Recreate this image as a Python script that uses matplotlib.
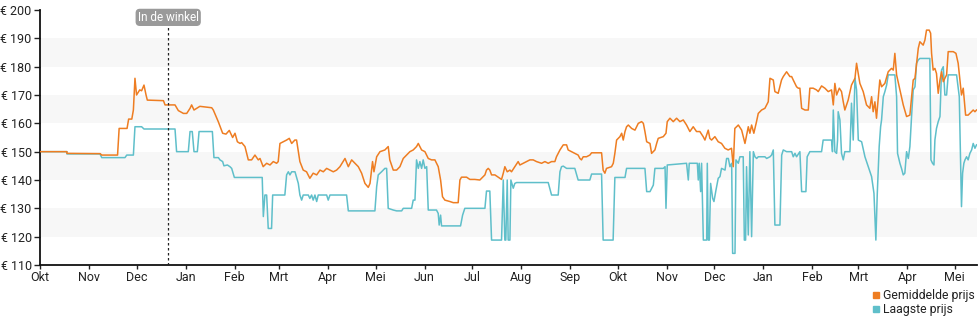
import numpy as np
import pandas as pd
import matplotlib
matplotlib.use("Agg")
import matplotlib.pyplot as plt
from matplotlib.lines import Line2D

plt.rcParams['font.family'] = ['Roboto', 'DejaVu Sans']

start = np.datetime64('2022-10-01')

# gemiddelde prijs: dagen vanaf 1 okt, prijs in euro
avg_days = [0, 17, 17, 38, 39, 49, 50, 55, 56, 58, 59, 60, 61, 63, 64.2, 65.7, 67, 67.8,
            78, 79, 85.3, 87.4, 90.6, 92.7, 94.8, 95.8, 97.3, 99, 101, 108.5, 109.5, 112.7,
            115.4, 117.5, 119.6, 121.7, 123.2, 124.7, 126.4, 127.4, 129.5, 131.6, 133.7,
            135.8, 137.9, 139, 141, 143.2, 145.3, 147.4, 149.5, 150.5, 151.6, 153.7, 155.8,
            157.5, 159, 161, 162.1, 164.2, 166.3, 168.4, 170.5, 172.6, 174.8, 176.9, 179,
            181.1, 183.2, 185.3, 187.4, 189.5, 192.7, 194.8, 196.9, 199, 201.1, 203.2, 205.3,
            207.4, 208.5, 210.1, 211, 212.7, 214.8, 217.9, 220, 221, 223.2, 225.3, 227.4,
            229.5, 231.6, 233.7, 235.8, 237.9, 239, 241.1, 243.2, 245.3, 247.4, 249.5, 251.6,
            253.1, 254.3, 255.8, 259, 261.1, 264.2, 265.3, 266.3, 269.5, 271.6, 274.7, 277.9,
            279, 281.1, 282.1, 283.2, 284.2, 285.3, 287.4, 289.5, 291.6, 292.7, 293.7, 295.2,
            296.9, 297.9, 300, 302.1, 303.2, 305.3, 307.4, 309.5, 311.6, 313.7, 316.9, 319,
            321.1, 323.2, 325.3, 326.3, 328.5, 330.6, 332.7, 333.7, 335.8, 337.9, 340, 341.1,
            342.1, 343.2, 345.3, 347.4, 348.5, 354.8, 355.8, 356.9, 357.9, 361.1, 362.2,
            363.2, 364.3, 366.4, 367.5, 368.5, 369.6, 370.6, 371.7, 373.8, 375.9, 378, 380.1,
            381.2, 382.2, 383.3, 385.4, 386.4, 388.5, 389.6, 390.6, 393.8, 395.5, 396.3, 398,
            400.1, 402.2, 404.3, 406.4, 408.5, 410.6, 412.7, 414.8, 416.9, 419, 420.1, 422.2,
            423.2, 424.3, 426.4, 428.5, 430.6, 432.7, 434.8, 436.9, 438, 439, 441.2, 443.3,
            445.4, 447.5, 448.5, 449.6, 451, 452.7, 453.8, 455.9, 458, 460.1, 461.2, 463.3,
            464.3, 466.4, 468.5, 469.6, 471.7, 473.8, 474.9, 475.9, 478, 479.1, 480.1, 481.2,
            483.3, 485.4, 486.4, 488.5, 490.6, 491.7, 493.8, 495.9, 498, 500.1, 501.2, 502.2,
            503.3, 505, 506.4, 507.5, 508.5, 510.6, 512.7, 513.8, 514.9, 515.9, 517, 518,
            520.1, 522.2, 524.3, 525.4, 526.4, 527.5, 528.5, 530.6, 531.7, 533.8, 535.9, 538,
            539.1, 540.1, 541.2, 543.3, 545.4, 547.5, 549.6, 551.7, 552.8, 554.9, 555.9, 558,
            559.1, 560.1, 561.8, 562.7, 563.3, 564.3, 565.4, 566.4, 567.5, 568.6, 569.6,
            570.7, 571.7, 572.8, 573.8, 577, 578.7, 580.1, 582.2, 583.3, 584.8, 586.4, 587.5,
            589.6, 590.7, 591.7]
avg_prices = [150, 150, 149.4, 149.3, 148.8, 148.8, 158.2, 158.2, 161.5, 161.5, 164.7, 175.9,
              170, 171.8, 171.5, 173.5, 170, 168.2, 168.0, 166.5, 166.5, 164.5, 163.5, 163.5,
              165.3, 166.5, 164.7, 165.3, 166, 165.5, 164.7, 160.5, 156.5, 156.2, 157.5, 155,
              156.5, 153.5, 152.9, 153.2, 151.8, 147.1, 147.1, 148.8, 147.1, 147.6, 144.7,
              145.9, 145.3, 146.5, 145.9, 146.5, 152.9, 153.5, 154.1, 154.7, 152.9, 154.1,
              154.1, 146.5, 143.5, 142.9, 140.6, 142.4, 141.8, 143.5, 142.9, 144.1, 143.5,
              142.9, 143.5, 144.7, 147.6, 144.7, 147.1, 145.9, 144.7, 142.4, 138.8, 137.4,
              138.8, 146.5, 142.9, 148.2, 150, 150.6, 151.8, 147.1, 143.5, 143.5, 144.7, 147.6,
              148.8, 150, 150.6, 151.8, 152.9, 150.6, 150, 147.6, 147.1, 147.1, 144.7, 140,
              134.1, 132.9, 132.4, 132, 132, 140, 141, 141, 140.2, 140.2, 140, 140.6, 141.8,
              143.5, 144.1, 143.5, 141.8, 141.8, 141, 140.2, 142.4, 144.7, 142.9, 143.5, 142.9,
              144.7, 146.5, 145.3, 145.9, 146.5, 147.1, 147.1, 146.5, 145.9, 146.5, 145.9,
              146.5, 146.5, 148.2, 150.6, 152.4, 152.4, 150.6, 150, 149.4, 148.8, 147.6, 147.1,
              148.2, 148.2, 148.8, 149.6, 149.6, 143.5, 142.4, 144.1, 144.7, 145.9, 149.4,
              154.1, 155.3, 156.5, 154.1, 157.1, 158.8, 159.4, 158.2, 157.6, 160, 160.6, 160,
              157.1, 153.5, 152.9, 149.4, 150.6, 152.9, 154.7, 155.3, 156.5, 160.6, 161.8,
              160.6, 161.8, 160.6, 161.2, 159.4, 157.1, 158.8, 157.1, 157.1, 155.3, 154.1,
              157.6, 154.7, 154.1, 155.3, 153.5, 152.9, 151.2, 150.6, 151.2, 144.7, 158.2,
              159.4, 157.6, 152.9, 158.8, 156.5, 159.4, 156.5, 160.6, 163.5, 164.7, 165.3,
              167.6, 175.9, 175.3, 171.2, 170.6, 175.3, 176.5, 178.2, 176.5, 176.5, 175.3,
              172.9, 172.4, 172.4, 165.3, 164.7, 164.7, 172.4, 172.4, 171.8, 171.2, 173.2,
              172.4, 171.2, 171.8, 166.5, 174.1, 170, 172.4, 171.2, 167.6, 164.7, 168.2, 173.5,
              174.7, 175.9, 181.2, 177.6, 174.1, 171.2, 166.5, 165.3, 169.4, 164.1, 167.6,
              161.8, 175.3, 172.9, 174.1, 178.2, 179.4, 178.8, 184.7, 177.1, 171.8, 166.5,
              162.4, 162.9, 175.3, 175.9, 186.5, 188.8, 187.6, 189.4, 192.9, 192.9, 191.8,
              184.7, 178.8, 179.4, 177.6, 170.6, 175.3, 178.2, 174.7, 175.9, 177.1, 185.3,
              185.3, 184.7, 181.2, 170, 172.4, 162.9, 162.9, 163.5, 164.7, 164.1, 164.7]

# laagste prijs
low_days = [0, 17, 17, 37.9, 39, 53.7, 54.8, 59, 60, 64.2, 65.7, 85.3, 86.3, 93.7, 94.8, 96.2,
            97.3, 99.4, 100.5, 108.9, 109.9, 112.7, 113.7, 115.4, 116.2, 118.4, 120, 121.1,
            122.8, 140.4, 141.1, 142.1, 143.2, 144.2, 146.3, 147, 154.7, 155.8, 156.9, 157.9,
            159, 161.1, 163.2, 164.2, 165.3, 166.3, 169.5, 170.5, 171.6, 172.6, 173.7, 174.8,
            175.8, 181.1, 182.1, 183.2, 193.7, 194.8, 211.6, 212.7, 213.7, 215.8, 217.9, 219,
            220, 223.2, 225.3, 228.5, 229.5, 234.8, 235.8, 236.9, 237.9, 239, 240, 241.1,
            242.1, 243.2, 244.3, 245.3, 250.5, 251.6, 252.2, 253.1, 253.7, 265.7, 267, 268.4,
            281.1, 282.1, 284.2, 285.3, 291.6, 292.7, 293.7, 294.3, 295.2, 295.8, 296.9, 297.5,
            299, 300, 301.1, 321.1, 323.2, 327.4, 328.5, 329.5, 330.6, 332.7, 337.9, 340,
            347.4, 348.5, 354.8, 355.8, 362.1, 363.2, 369.6, 370.6, 382.2, 383.3, 385.4, 387.5,
            388.5, 393.8, 394.9, 395.5, 396.3, 408.5, 409.6, 410.2, 415.3, 415.9, 416.5, 417.4,
            418, 419.1, 421.2, 421.6, 422.2, 422.9, 423.7, 425, 425.8, 427.1, 428.5, 429.6,
            430.6, 432.8, 433.8, 434.9, 435.9, 437, 437.6, 439.1, 439.7, 441.2, 442.2, 444.3,
            445, 445.8, 446.4, 447.5, 448.5, 449.6, 450.7, 451.7, 452.8, 453.8, 458, 459.1,
            461.2, 462.2, 463.3, 464.3, 467.5, 468.6, 469.6, 471.7, 474.9, 475.9, 477, 478,
            480.1, 481.2, 483.9, 484.7, 486.4, 493.8, 494.8, 500.1, 500.7, 501.2, 502.2, 503.3,
            503.9, 504.3, 505.4, 506.4, 507.5, 508.5, 511.7, 512.7, 513.8, 514.9, 515.9, 517,
            519.1, 521.2, 523.3, 525.4, 526.9, 528.1, 529, 530.2, 531.1, 531.7, 532.8, 533.8,
            534.9, 535.9, 540.1, 541.2, 541.8, 543.3, 544.3, 545.4, 546.4, 547.5, 548.6,
            549.6, 550.7, 551.7, 552.8, 553.8, 554.9, 555.9, 562.2, 562.9, 563.9, 564.8,
            565.4, 566.4, 567.5, 568.6, 569.6, 570.7, 571.7, 572.8, 573.8, 579.1, 580.8,
            582.2, 582.9, 583.7, 584.4, 585.4, 586.4, 587.5, 588.6, 589.6, 590.7, 591.7]
low_prices = [150, 150, 149.2, 149.2, 147.9, 147.9, 148.8, 148.8, 158.8, 158.8, 158, 158, 150,
              150, 157.1, 157.1, 150, 150, 157.1, 157.1, 147.9, 147.9, 147.1, 146.5, 145,
              145.3, 144.7, 144.1, 140.9, 140.9, 127.1, 134.7, 134.7, 122.9, 122.9, 134.7,
              134.7, 141.8, 142.9, 141.8, 142.9, 142.9, 138.8, 134.7, 132.9, 134.7, 134.7,
              133.5, 134.7, 132.9, 134.7, 132.4, 134.7, 134.7, 132.9, 134.7, 134.7, 129.1,
              129.1, 137.6, 141.8, 142.9, 144.1, 144.1, 130, 129.4, 129.1, 129.1, 130, 130,
              132.9, 132.9, 147.1, 144.1, 146.5, 144.1, 147.1, 144.1, 144.7, 129.4, 129.4,
              128.2, 124.1, 127.6, 123.8, 123.8, 127.6, 130, 130, 136.1, 136.1, 118.8, 118.8,
              140, 118.8, 118.8, 140, 118.8, 118.8, 140, 137.1, 138.8, 139.1, 139.1, 134.7,
              134.7, 142.9, 144.7, 144.9, 144.1, 144.1, 140, 140, 142.1, 142.1, 118.8, 118.8,
              140.9, 140.9, 144.1, 144.1, 135.9, 135.9, 138.2, 144.1, 144.1, 144.7, 130, 145.3,
              145.9, 140, 145.9, 145.9, 140, 145.9, 135.9, 145.9, 118.8, 118.8, 145.9, 118.8,
              118.8, 138.8, 133.5, 132.4, 136.5, 140.6, 141.2, 144.1, 143.5, 147.6, 147.6,
              144.7, 145.9, 114.1, 114.1, 147.1, 145.9, 148.2, 148.2, 118.8, 118.8, 144.7,
              120.6, 150, 120, 150, 148.2, 147.6, 148.2, 148.2, 147.6, 148.2, 148.8, 150.6,
              124.1, 124.1, 148.8, 150.6, 150, 150, 148.2, 149.4, 148.2, 150, 135.9, 135.9,
              148.2, 150, 150, 154.1, 154.1, 150, 164.7, 150, 149.4, 154.1, 164.1, 161.2,
              149.4, 147.1, 150, 150, 167.1, 154.1, 175.9, 171.8, 154.1, 153.5, 148.2, 144.7,
              141.2, 135.3, 118.8, 135.3, 151.8, 158.8, 161.2, 169.4, 171.2, 173.5, 177.1,
              177.1, 169.4, 149.4, 145.9, 144.1, 141.8, 142.4, 150, 147.6, 151.8, 162.9, 171.8,
              172.9, 181.2, 182.4, 182.9, 182.9, 147.1, 145.9, 145.3, 154.1, 158.2, 160.6,
              162.4, 178.8, 180, 170, 170, 177.1, 177.1, 169.4, 130.6, 142.4, 145.9, 147.1,
              148.2, 147.1, 149.4, 150.6, 152.9, 151.2, 152.4]

month_names = ['Jan', 'Feb', 'Mrt', 'Apr', 'Mei', 'Jun', 'Jul', 'Aug', 'Sep', 'Okt', 'Nov', 'Dec']
in_store_date = '2022-12-21'
y_ticks = list(range(110, 201, 10))

orange = '#ee7d22'
teal = '#5fbfca'


def to_dates(days):
    return start + pd.to_timedelta(np.array(days), unit='D').to_numpy()


fig = plt.figure(figsize=(9.8, 3.25), dpi=100)
ax = fig.add_axes([40 / 980, 1 - 265 / 325, 937 / 980, 255 / 325])

# lichtgrijze banden
for lo in (120, 140, 160, 180):
    ax.axhspan(lo, lo + 10, color='#f7f7f7', zorder=0, lw=0)

ax.plot(to_dates(avg_days), avg_prices, color=orange, lw=1.1, zorder=3)
ax.plot(to_dates(low_days), low_prices, color=teal, lw=1.1, zorder=2)

ax.set_ylim(110, 200)
ax.set_xlim(start, start + np.timedelta64(592, 'D'))

ax.set_yticks(y_ticks)
ax.set_yticklabels(['€ %d' % v for v in y_ticks])

months = pd.date_range('2022-10-01', '2024-05-01', freq='MS')
ax.set_xticks(months.to_numpy())
ax.set_xticklabels([month_names[m.month - 1] for m in months])

ax.tick_params(axis='both', labelsize=9, colors='#222222', length=4, width=1, pad=2)
ax.tick_params(axis='x', length=3, pad=1)
for side in ('top', 'right'):
    ax.spines[side].set_visible(False)
for side in ('left', 'bottom'):
    ax.spines[side].set_linewidth(1.3)
    ax.spines[side].set_color('#111111')

# "In de winkel" markering
store_x = np.datetime64(in_store_date)
ax.axvline(store_x, color='#222222', lw=0.9, ls=(0, (2, 2)), zorder=4)
ax.text(store_x, 197.4, 'In de winkel', ha='center', va='center', fontsize=8.5, color='white',
        bbox=dict(boxstyle='round,pad=0.12,rounding_size=0.3', fc='#9a9a9a', ec='#9a9a9a'),
        zorder=5)

handles = [Line2D([], [], marker='s', ls='', color=orange, markersize=5),
           Line2D([], [], marker='s', ls='', color=teal, markersize=5)]
fig.legend(handles, ['Gemiddelde prijs', 'Laagste prijs'], loc='upper left',
           bbox_to_anchor=(872 / 980, 1 - 289 / 325), frameon=False, fontsize=8.8,
           handlelength=0.6, handletextpad=0.3, labelspacing=0.1, borderpad=0,
           borderaxespad=0, labelcolor='#222222')

fig.savefig('out.png', dpi=100)
